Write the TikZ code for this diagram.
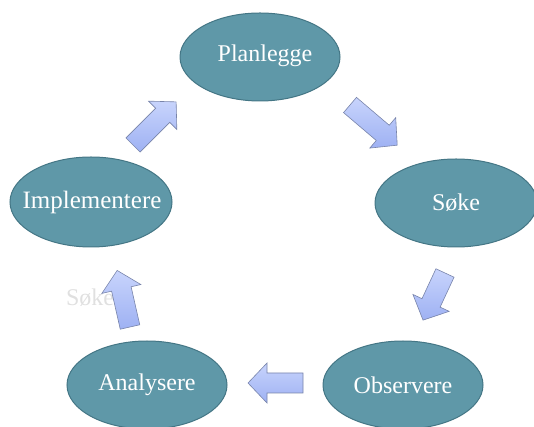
\documentclass[tikz,border=0pt]{standalone}
\usepackage{fontspec}
\setmainfont{Liberation Serif}
\usetikzlibrary{shapes.geometric}
\begin{document}
\definecolor{stagefill}{RGB}{95,152,168}
\definecolor{stageedge}{RGB}{68,118,133}
\definecolor{arrowlight}{RGB}{200,212,252}
\definecolor{arrowdark}{RGB}{158,177,243}
\definecolor{arrowedge}{RGB}{120,132,170}
\begin{tikzpicture}[x=1pt,y=1pt,
  stage/.style={ellipse, fill=stagefill, draw=stageedge, line width=1pt,
    inner sep=0pt, minimum width=160pt, minimum height=88pt},
  stagetext/.style={text=white, inner sep=0pt, font=\fontsize{24}{28}\selectfont},
  blockarrow/.style={draw=arrowedge, line width=0.6pt, line join=miter,
    top color=arrowlight, bottom color=arrowdark},
  pics/flowarrow/.style={code={
    % shaft half-width 10, head half-width 20, head length 19; #1 = total length
    \path[blockarrow] (0,-10) -- (#1-19,-10) -- (#1-19,-20) -- (#1,0)
      -- (#1-19,20) -- (#1-19,10) -- (0,10) -- cycle;
  }}]
\useasboundingbox (0,0) rectangle (534,427);

% stages of the cycle: ellipse, then its label
\node[stage] (plan) at (260,370) {};
\node[stagetext] (planT) at (265,371) {Planlegge};
\node[stage, minimum width=162pt] (soke) at (456,224) {};
\node[stagetext] (sokeT) at (soke.center) {Søke};
\node[stage, minimum width=162pt, minimum height=90pt] (impl) at (91,225) {};
\node[stagetext, font=\fontsize{25}{29}\selectfont] (implT) at (92,225) {Implementere};
\node[stage] (anal) at (147,42) {};
\node[stagetext] (analT) at (anal.center) {Analysere};
\node[stage] (obs) at (403,42) {};
\node[stagetext] (obsT) at (obs.center) {Observere};

% faint leftover label
\node[text=black!12, font=\fontsize{24}{28}\selectfont] (ghost) at (90,129) {Søke};

% block arrows between the stages
\pic[shift={(133,282)}, rotate=45] {flowarrow=61};
\pic[shift={(350,322)}, rotate=-40.4] {flowarrow=62};
\pic[shift={(445,154)}, rotate=-115] {flowarrow=52};
\pic[shift={(303,44)}, rotate=180] {flowarrow=55};
\pic[shift={(130,100)}, rotate=102.8] {flowarrow=58};
\end{tikzpicture}
\end{document}
